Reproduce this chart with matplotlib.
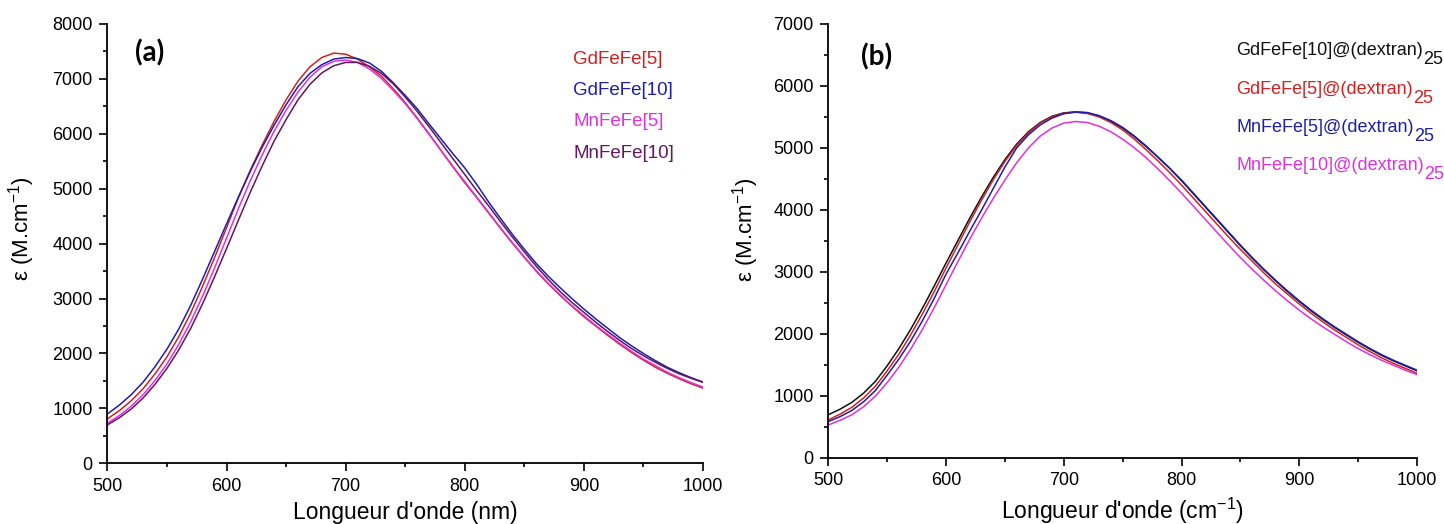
import matplotlib
matplotlib.use("Agg")
import matplotlib.pyplot as plt
from matplotlib.ticker import MultipleLocator

plt.rcParams["font.family"] = ["Liberation Sans", "DejaVu Sans"]
plt.rcParams["mathtext.fontset"] = "custom"
plt.rcParams["mathtext.rm"] = "Liberation Sans"
plt.rcParams["mathtext.it"] = "Liberation Sans:italic"
plt.rcParams["mathtext.bf"] = "Liberation Sans:bold"

# wavelength grid (nm), values read every 10 nm off the figure
wl = list(range(500, 1001, 10))

# panel (a): bare particles
gd5 = [810, 960, 1140, 1360, 1630, 1940, 2310, 2740, 3230, 3750,
       4290, 4840, 5340, 5800, 6230, 6620, 6960, 7220, 7390, 7470,
       7450, 7360, 7220, 7050, 6820, 6570, 6290, 6000, 5700, 5400,
       5110, 4840, 4560, 4280, 4010, 3750, 3500, 3270, 3060, 2860,
       2670, 2500, 2330, 2170, 2020, 1880, 1750, 1640, 1540, 1450, 1370]
gd10 = [900, 1060, 1250, 1480, 1760, 2080, 2450, 2880, 3360, 3860,
        4360, 4850, 5320, 5760, 6160, 6530, 6860, 7100, 7260, 7360,
        7390, 7370, 7290, 7140, 6930, 6700, 6460, 6180, 5910, 5640,
        5380, 5080, 4760, 4460, 4170, 3900, 3640, 3410, 3200, 3000,
        2810, 2630, 2460, 2290, 2140, 2000, 1870, 1750, 1650, 1560, 1480]
mn5 = [730, 870, 1040, 1250, 1510, 1810, 2170, 2580, 3050, 3560,
       4100, 4640, 5150, 5620, 6050, 6430, 6760, 7030, 7220, 7320,
       7345, 7300, 7180, 7010, 6790, 6550, 6280, 5990, 5700, 5410,
       5130, 4850, 4570, 4290, 4020, 3760, 3510, 3280, 3070, 2870,
       2690, 2510, 2350, 2190, 2040, 1900, 1780, 1660, 1560, 1470, 1390]
mn10 = [700, 830, 990, 1190, 1440, 1730, 2070, 2460, 2910, 3400,
        3910, 4430, 4940, 5420, 5870, 6260, 6620, 6900, 7110, 7240,
        7300, 7300, 7230, 7100, 6910, 6670, 6410, 6130, 5840, 5550,
        5260, 4970, 4690, 4400, 4120, 3850, 3590, 3350, 3130, 2930,
        2750, 2570, 2400, 2240, 2090, 1960, 1840, 1730, 1630, 1550, 1475]

# panel (b): dextran-coated particles
gd10_dex = [690, 780, 890, 1040, 1230, 1480, 1760, 2070, 2410, 2770,
            3140, 3500, 3860, 4200, 4520, 4810, 5060, 5260, 5410, 5510,
            5565, 5580, 5565, 5515, 5430, 5320, 5180, 5020, 4850, 4670,
            4470, 4260, 4050, 3840, 3630, 3420, 3220, 3030, 2850, 2680,
            2520, 2370, 2230, 2100, 1980, 1860, 1750, 1650, 1560, 1480, 1400]
gd5_dex = [606, 700, 810, 960, 1150, 1400, 1670, 1980, 2320, 2680,
           3060, 3430, 3800, 4150, 4480, 4780, 5040, 5240, 5400, 5500,
           5560, 5575, 5555, 5500, 5410, 5290, 5140, 4970, 4790, 4600,
           4400, 4190, 3980, 3770, 3560, 3360, 3170, 2980, 2800, 2640,
           2480, 2330, 2190, 2060, 1940, 1820, 1710, 1610, 1520, 1440, 1360]
mn5_dex = [580, 660, 760, 900, 1080, 1330, 1590, 1880, 2210, 2570,
           2960, 3300, 3650, 3990, 4340, 4690, 5000, 5210, 5370, 5480,
           5550, 5580, 5570, 5520, 5440, 5330, 5190, 5030, 4850, 4670,
           4480, 4270, 4060, 3850, 3640, 3430, 3230, 3040, 2860, 2690,
           2530, 2380, 2240, 2110, 1990, 1870, 1760, 1660, 1570, 1490, 1410]
mn10_dex = [525, 600, 690, 820, 990, 1210, 1460, 1750, 2070, 2420,
            2790, 3160, 3520, 3860, 4180, 4480, 4760, 5000, 5190, 5320,
            5400, 5425, 5410, 5350, 5260, 5140, 5000, 4840, 4660, 4470,
            4270, 4060, 3850, 3640, 3430, 3230, 3040, 2860, 2690, 2530,
            2380, 2240, 2110, 1990, 1870, 1760, 1660, 1570, 1490, 1410, 1340]

RED, BLUE, MAG, PURP, BLK = "#d42020", "#1e1eaa", "#e030e0", "#641660", "#111111"

labels_a = ["GdFeFe[5]", "GdFeFe[10]", "MnFeFe[5]", "MnFeFe[10]"]
series_a = [gd5, gd10, mn5, mn10]
colors_a = [RED, BLUE, MAG, PURP]

labels_b = ["GdFeFe[10]@(dextran)", "GdFeFe[5]@(dextran)",
            "MnFeFe[5]@(dextran)", "MnFeFe[10]@(dextran)"]
series_b = [gd10_dex, gd5_dex, mn5_dex, mn10_dex]
colors_b = [BLK, RED, BLUE, MAG]

fig = plt.figure(figsize=(14.44, 5.24), dpi=100)
axa = fig.add_axes([0.0744, 0.1158, 0.4124, 0.8384])
axb = fig.add_axes([0.5736, 0.1269, 0.4077, 0.8273])


def style(ax, ymax, ystep):
    ax.set_xlim(500, 1000)
    ax.set_ylim(0, ymax)
    ax.xaxis.set_major_locator(MultipleLocator(100))
    ax.xaxis.set_minor_locator(MultipleLocator(50))
    ax.yaxis.set_major_locator(MultipleLocator(ystep))
    ax.yaxis.set_minor_locator(MultipleLocator(ystep / 2))
    for s in ["top", "right"]:
        ax.spines[s].set_visible(False)
    for s in ["left", "bottom"]:
        ax.spines[s].set_linewidth(1.3)
    ax.tick_params(which="major", direction="out", length=6, width=1.2,
                   labelsize=13, pad=4.5)
    ax.tick_params(which="minor", direction="out", length=3.2, width=1.2)


# (a)
for y, c in zip(series_a, colors_a):
    axa.plot(wl, y, color=c, lw=1.1)
style(axa, 8000, 1000)
axa.set_xlabel("Longueur d'onde (nm)", fontsize=16.5)
axa.set_ylabel(r"ε (M.cm$^{\mathregular{-1}}$)", fontsize=16)
axa.xaxis.set_label_coords(0.5, -0.085)
axa.yaxis.set_label_coords(-0.118, 0.535)
axa.text(0.0705, 0.934, "(a)", transform=axa.transAxes, ha="center",
         va="center", fontsize=20, fontweight="bold", family="Lato")
for i, (lab, c) in enumerate(zip(labels_a, colors_a)):
    axa.text(0.782, 0.920 - i * 0.0713, lab, transform=axa.transAxes,
             ha="left", va="center", fontsize=13.5, color=c)

# (b)
for y, c in zip(series_b, colors_b):
    axb.plot(wl, y, color=c, lw=1.1)
style(axb, 7000, 1000)
axb.set_xlabel(r"Longueur d'onde (cm$^{\mathregular{-1}}$)", fontsize=16.5)
axb.set_ylabel(r"ε (M.cm$^{\mathregular{-1}}$)", fontsize=16)
axb.xaxis.set_label_coords(0.5, -0.088)
axb.yaxis.set_label_coords(-0.114, 0.525)
axb.text(0.0827, 0.924, "(b)", transform=axb.transAxes, ha="center",
         va="center", fontsize=20, fontweight="bold", family="Lato")
for i, (lab, c) in enumerate(zip(labels_b, colors_b)):
    t = axb.text(0.6926, 0.938 - i * 0.0885, lab, transform=axb.transAxes,
                 ha="left", va="center", fontsize=13, color=c)
    axb.annotate("25", xy=(1, 0.5), xycoords=t, xytext=(0.3, -6.5),
                 textcoords="offset points", ha="left", va="center",
                 fontsize=13, color=c)

fig.savefig("out.png", dpi=100)
